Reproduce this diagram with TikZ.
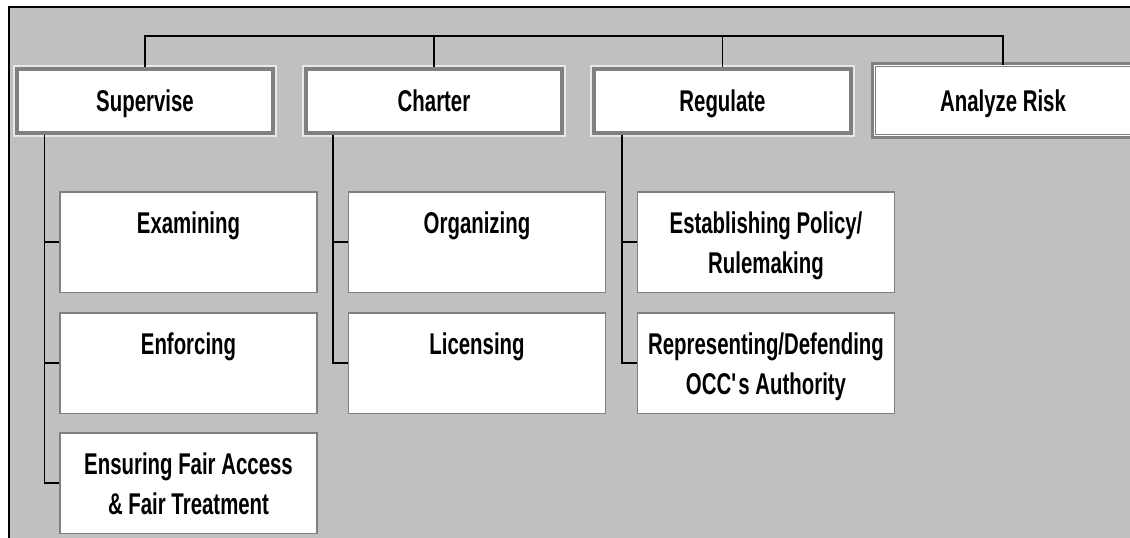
\documentclass[tikz,border=0pt]{standalone}
\usepackage{fontspec}
\newfontfamily\orgfont[FakeStretch=0.68]{Liberation Sans}

\definecolor{panel}{HTML}{C0C0C0}
\definecolor{frame}{HTML}{808080}
\definecolor{rim}{HTML}{E8E8E8}

\begin{document}
\begin{tikzpicture}[x=1pt, y=-1pt,
	every node/.style={font=\orgfont\bfseries\fontsize{30}{40}\selectfont, text width=250pt, align=flush center,
		execute at begin node=\rule{0pt}{34pt}, execute at end node=\strut},
	head/.style={fill=white, draw=frame, line width=4pt, minimum width=256pt, minimum height=64pt,
		preaction={draw=rim, line width=8pt}},
	riskhead/.style={fill=white, draw=frame, line width=1pt, double=white, double distance=1pt,
		minimum width=258pt, minimum height=70pt, preaction={draw=frame, line width=7pt}},
	task/.style={fill=white, draw=frame, line width=1.5pt, minimum width=255.5pt, minimum height=100.5pt},
	wire/.style={line width=1.5pt}]
\useasboundingbox (0,0) rectangle (1130,538);
\clip (0,0) rectangle (1130,538);
\draw[fill=panel, line width=1.5pt] (9,7) rectangle (1150,560);

%functions
\node[head] (sup) at (145,100.5) {Supervise};
\node[head] (chart) at (434,100.5) {Charter};
\node[head] (reg) at (722.5,100.5) {Regulate};
\node[riskhead] (risk) at (1003,100.8) {Analyze Risk};

%activities
\node[task] (exam) at (188.5,242) {Examining\\~};
\node[task] (enf) at (188.5,363) {Enforcing\\~};
\node[task] (fair) at (188.5,483) {Ensuring Fair Access\\\& Fair Treatment};
\node[task] (org) at (477,242) {Organizing\\~};
\node[task] (lic) at (477,363) {Licensing\\~};
\node[task] (pol) at (766,242) {Establishing Policy/\\Rulemaking};
\node[task] (auth) at (766,363) {Representing/Defending\\OCC\textquotesingle s Authority};

%top bus
\coordinate (bus) at (0,36);
\draw[wire] (sup.north) -- (sup.north |- bus) -| (risk.north);
\draw[wire] (chart.north) -- (chart.north |- bus);
\draw[wire] (reg.north) -- (reg.north |- bus);

%branches
\coordinate (supx) at (44.7,0);
\coordinate (chartx) at (333,0);
\coordinate (regx) at (622,0);
\draw[wire] (sup.south -| supx) |- (fair.west);
\foreach \t in {exam,enf}
	\draw[wire] (supx |- \t.west) -- (\t.west);
\draw[wire] (chart.south -| chartx) |- (lic.west);
\draw[wire] (chartx |- org.west) -- (org.west);
\draw[wire] (reg.south -| regx) |- (auth.west);
\draw[wire] (regx |- pol.west) -- (pol.west);
\end{tikzpicture}
\end{document}
